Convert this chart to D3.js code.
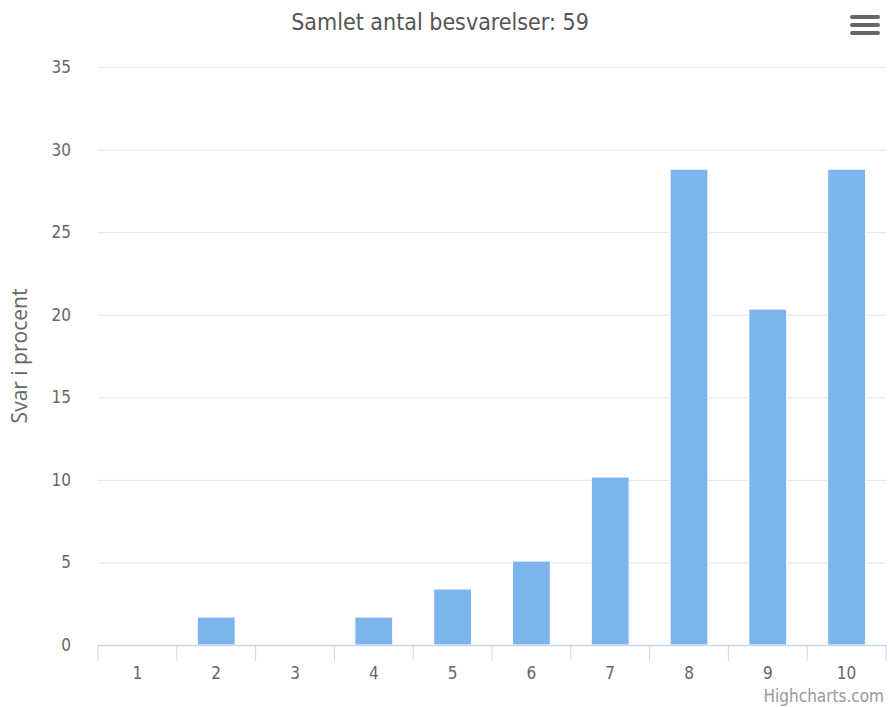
<!DOCTYPE html>
<html><head><meta charset="utf-8">
<script src="https://cdn.jsdelivr.net/npm/d3@7"></script>
<style>body{margin:0;background:#fff}svg{display:block}</style>
</head><body>
<svg id="c" width="888" height="707"></svg>
<script>
const categories = ["1","2","3","4","5","6","7","8","9","10"];
const values = [0, 1.69, 0, 1.69, 3.39, 5.08, 10.17, 28.81, 20.34, 28.81];
const yTicks = [0,5,10,15,20,25,30,35];
const titleText = "Samlet antal besvarelser: 59";
const yTitle = "Svar i procent";

const svg = d3.select("#c");
const m = {l:98, r:886, t:67, b:645};
const x = d3.scaleBand().domain(categories).range([m.l, m.r]);
const y = d3.scaleLinear().domain([0,35]).range([m.b, m.t]);
const condensed = "'Liberation Sans Narrow','DejaVu Sans Condensed',sans-serif";

// grid
svg.append("g").selectAll("line").data(yTicks.filter(d=>d>0)).join("line")
  .attr("x1",m.l).attr("x2",m.r).attr("y1",d=>y(d)+0.5).attr("y2",d=>y(d)+0.5)
  .attr("stroke","#e6e6e6").attr("stroke-width",1);

// y labels
svg.append("g").selectAll("text").data(yTicks).join("text")
  .attr("x",71).attr("y",d=>y(d)+6).attr("text-anchor","end")
  .attr("font-family",condensed).attr("font-size",17).attr("fill","#666").text(d=>d);

// bars
const bw = x.bandwidth()*0.6*0.8;
svg.append("g").selectAll("rect").data(values).join("rect")
  .attr("x",(d,i)=>x(categories[i])+x.bandwidth()/2-bw/2)
  .attr("width",bw)
  .attr("y",d=>y(d)).attr("height",d=>y(0)-y(d))
  .attr("fill","#7cb5ec").attr("stroke","#fff").attr("stroke-width",1);

// x axis
svg.append("line").attr("x1",m.l).attr("x2",m.r).attr("y1",m.b+0.5).attr("y2",m.b+0.5)
  .attr("stroke","#ccd6eb").attr("stroke-width",1.5);
const tickPos = categories.map(c=>x(c)).concat([m.r]);
svg.append("g").selectAll("line").data(tickPos).join("line")
  .attr("x1",d=>d).attr("x2",d=>d).attr("y1",m.b).attr("y2",m.b+16)
  .attr("stroke","#ccd6eb").attr("stroke-width",1);
svg.append("g").selectAll("text").data(categories).join("text")
  .attr("x",d=>x(d)+x.bandwidth()/2).attr("y",679).attr("text-anchor","middle")
  .attr("font-family",condensed).attr("font-size",17).attr("fill","#666").text(d=>d);

// title
svg.append("text").attr("x",440).attr("y",30).attr("text-anchor","middle")
  .attr("font-family",condensed).attr("font-size",23).attr("fill","#555").text(titleText);

// y title
svg.append("text").attr("transform","translate(27,356) rotate(-90)").attr("text-anchor","middle")
  .attr("font-family","'Open Sans',sans-serif").attr("font-size",21).attr("fill","#666").text(yTitle);

// credits
svg.append("text").attr("x",884).attr("y",702).attr("text-anchor","end")
  .attr("font-family",condensed).attr("font-size",17).attr("fill","#999").text("Highcharts.com");

// menu icon
svg.append("g").selectAll("line").data([17,25,33]).join("line")
  .attr("x1",852).attr("x2",878).attr("y1",d=>d).attr("y2",d=>d)
  .attr("stroke","#666").attr("stroke-width",4).attr("stroke-linecap","round");
</script>
</body></html>
